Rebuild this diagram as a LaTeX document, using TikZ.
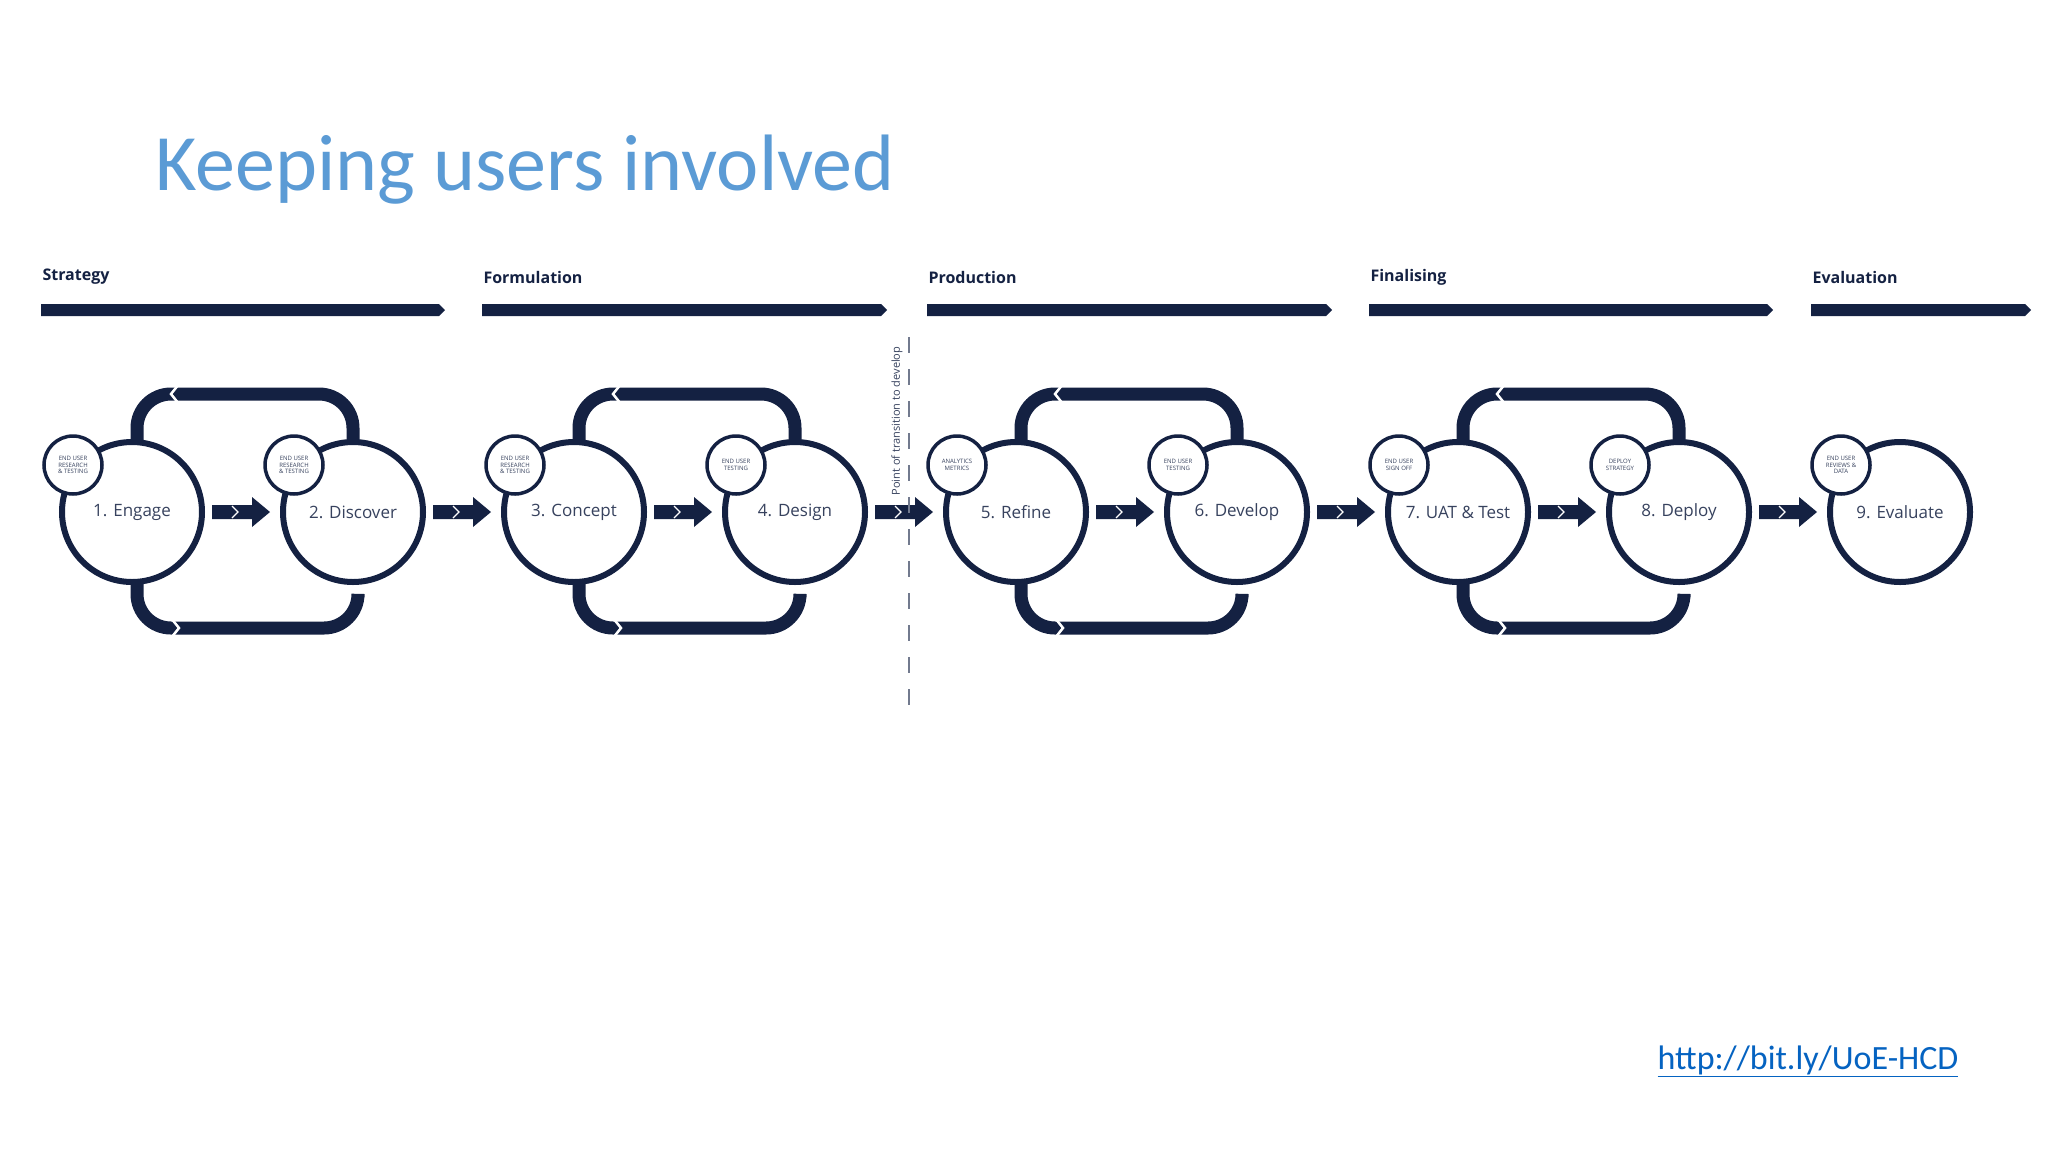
\documentclass[tikz,border=0pt]{standalone}
\usepackage{fontspec}
\setmainfont{Open Sans}
\newfontfamily\titlefont{Carlito}
\usetikzlibrary{calc}
\definecolor{navy}{RGB}{20,33,66}
\definecolor{titleblue}{RGB}{91,155,213}
\definecolor{linkblue}{RGB}{5,99,193}
\tikzset{
  big/.style={circle,draw=navy,line width=6pt,fill=white,minimum size=140pt,inner sep=0pt,font=\fontsize{17}{17}\selectfont,text=navy!85},
  small/.style={circle,draw=navy,line width=3.5pt,fill=white,minimum size=58pt,inner sep=0pt,align=center,font=\fontsize{6}{6.5}\selectfont,text=navy!85},
  loopline/.style={draw=navy,line width=13pt,rounded corners=34pt},
  notch/.style={draw=white,line width=2.5pt},
  phase/.style={font=\bfseries\fontsize{16}{16}\selectfont,text=navy,anchor=west},
}
\begin{document}
\begin{tikzpicture}[x=1pt,y=-1pt]
\useasboundingbox[fill=white] (0,0) rectangle (2048,1152);
\node[font=\titlefont\fontsize{80}{80}\selectfont,text=titleblue,anchor=west] (title) at (152,170) {Keeping users involved};
% phases
\foreach \n/\a/\b/\t in {p1/41/445/Strategy,p2/482/887/Formulation,p3/927/1332/Production,p4/1369/1773/Finalising,p5/1811/2031/Evaluation}{
  \fill[navy] (\a,304) -- (\b-6,304) -- (\b,310) -- (\b-6,316) -- (\a,316) -- cycle;
  \node[phase] (\n) at (\a-2,277) {\t};
}
% loops
\foreach \i in {0,2,4,6}{
  \pgfmathsetmacro{\xa}{132+221*\i}
  \pgfmathsetmacro{\xb}{132+221*(\i+1)}
  \draw[loopline] (\xa+5,480) -- (\xa+5,394) -- (\xb,394) -- (\xb,480);
  \draw[loopline] (\xa+5,540) -- (\xa+5,628) -- (\xb+5,628) -- (\xb+5,597);
  \draw[notch] (\xa+47,384) -- (\xa+39,394) -- (\xa+47,404);
  \draw[notch] (\xa+39,618) -- (\xa+47,628) -- (\xa+39,638);
}
% circles
\foreach \i/\lab/\sm in {1/1. Engage/{END USER\\RESEARCH\\\& TESTING},2/2. Discover/{END USER\\RESEARCH\\\& TESTING},3/3. Concept/{END USER\\RESEARCH\\\& TESTING},4/4. Design/{END USER\\TESTING},5/5. Refine/{ANALYTICS\\METRICS},6/6. Develop/{END USER\\TESTING},7/7. UAT \& Test/{END USER\\SIGN OFF},8/8. Deploy/{DEPLOY\\STRATEGY},9/9. Evaluate/{END USER\\REVIEWS \&\\DATA}}{
  \pgfmathsetmacro{\xc}{132+221*(\i-1)}
  \node[big] (c\i) at (\xc,512) {\lab};
  \node[small] (s\i) at (\xc-59,465) {\sm};
}
% arrows
\foreach \i [evaluate=\i as \j using int(\i+1)] in {1,...,8}{
  \path ($(c\i.east)+(7,0)$) coordinate (a\i);
  \fill[navy] (a\i) ++(0,-7) -- ++(40,0) -- ++(0,-8) -- ++(18,15) -- ++(-18,15) -- ++(0,-8) -- ++(-40,0) -- cycle;
  \draw[white,line width=1.2pt] ($(a\i)+(20,-6)$) -- ($(a\i)+(26,0)$) -- ($(a\i)+(20,6)$);
}
% transition
\coordinate (d1) at (909,337);
\coordinate (d2) at (909,712);
\draw[navy!60,line width=2pt,dash pattern=on 16pt off 16pt] (d1) -- (d2);
\node[rotate=90,font=\fontsize{11}{11}\selectfont,text=navy!85] (tr) at (897,421) {Point of transition to develop};
% link
\node[font=\titlefont\fontsize{34}{34}\selectfont,text=linkblue,anchor=east] (link) at (1962,1061) {\underline{http://bit.ly/UoE-HCD}};
\end{tikzpicture}
\end{document}
